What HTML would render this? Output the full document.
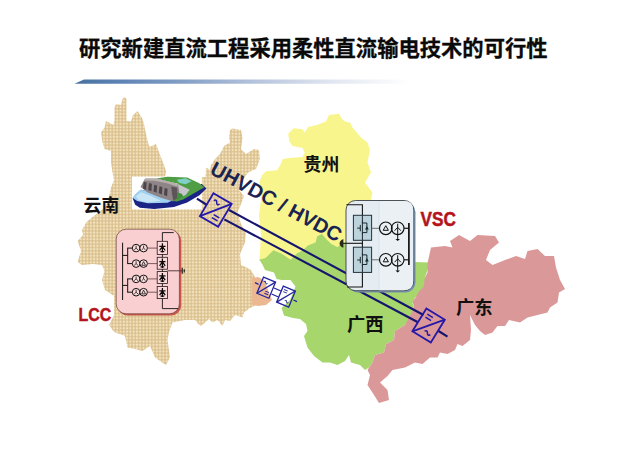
<!DOCTYPE html>
<html lang="zh">
<head>
<meta charset="utf-8">
<title>研究新建直流工程采用柔性直流输电技术的可行性</title>
<style>
html,body{margin:0;padding:0;background:#fff;}
body{width:640px;height:452px;overflow:hidden;position:relative;font-family:"Liberation Sans","Noto Sans CJK SC",sans-serif;}
svg{position:absolute;left:0;top:0;display:block;}
.cj{font-family:"Liberation Sans","Noto Sans CJK SC",sans-serif;font-weight:bold;}
.la{font-family:"Liberation Sans","Noto Sans CJK SC",sans-serif;font-weight:bold;}
</style>
</head>
<body>
<svg width="640" height="452" viewBox="0 0 640 452">
<defs>
  <linearGradient id="bar" x1="0" y1="0" x2="1" y2="0">
    <stop offset="0" stop-color="#46719f"/>
    <stop offset="0.12" stop-color="#5a81b2"/>
    <stop offset="0.3" stop-color="#7e9bc3"/>
    <stop offset="0.55" stop-color="#b7c5dd"/>
    <stop offset="0.75" stop-color="#dee4ef"/>
    <stop offset="1" stop-color="#ffffff"/>
  </linearGradient>
  <pattern id="tan" width="3.3" height="3.3" patternUnits="userSpaceOnUse">
    <rect width="3.3" height="3.3" fill="#dbbf8e"/>
    <circle cx="1.65" cy="1.65" r="1.15" fill="#f2e4c0"/>
  </pattern>
</defs>
<rect width="640" height="452" fill="#ffffff"/>

<!-- title -->
<text x="79" y="56" class="cj" font-size="21.3" fill="#0a0a0a" stroke="#0a0a0a" stroke-width="0.3">研究新建直流工程采用柔性直流输电技术的可行性</text>
<polygon points="84,79.6 410,79.6 410,83.8 74.5,83.8" fill="url(#bar)"/>

<!-- MAP -->
<g id="map">
<!-- Yunnan -->
<path id="yunnan" fill="url(#tan)" d="M124.5,97 L126.5,99 L126.5,121 L131,121.5 L133,115 L137.5,111 L142,118 L144,124 L146,134 L149,146 L152,146 L156,144 L159,152 L162,160 L164,165 L166,171 L165,177 L203,177 L205.5,177 L206,167.5 L210,170 L211,165 L215,159 L220,154 L224,146 L230,142.5 L229,137.5 L230,130 L232.5,128.5 L241,130 L242.5,137.5 L241,149 L246,154 L254,149 L259,150 L260,159 L256,169 L248,172.5 L243,180 L239,190 L244,196 L241,204 L237.5,212.5 L241,224 L246,232.5 L245,242.5 L240,254 L241,265 L250,269 L254,275 L256,280 L256,305 L250,308 L244,312.5 L242.5,317.5 L235,315 L230,321 L225,320 L222.5,326 L217.5,320 L212.5,322.5 L209,319 L202.5,325 L200,326 L195,320 L185,320 L172.5,322.5 L169,332 L167.5,340 L170,357.5 L166,365 L160,361 L155,357.5 L150,346 L142.5,351 L135,349 L127.5,347.5 L125,336 L114,332 L109,325 L114,315 L114,296 L105,290 L102,280 L104.5,271 L102,265 L93,264 L82,265 L77.7,262 L81,251 L77.7,241 L83,235 L82,230 L86.5,222 L93,216.5 L98,213 L105,207 L107.5,202 L109.8,193 L111,187.5 L114,180 L112.5,172.5 L111,162.5 L111,151 L104.5,149 L102.5,142.5 L101,132.5 L104.5,127.5 L106,121 L113.5,125 L114.5,120 L114.5,107.5 L116,104 L121,105 L122.5,99 Z"/>
<!-- salmon patch -->
<path fill="#ebb892" d="M252,278 L258,277 L264,280 L268,290 L272,300 L266,305 L258,306 L252,305 Z"/>
<!-- Guizhou -->
<path id="guizhou" fill="#f9f58d" d="M288.2,133.7 L293.7,128.2 L302.5,129.3 L304.8,132.6 L308,127 L317,125 L325.8,121.6 L329,115 L339,113.8 L342.4,119.4 L345,121.6 L350,122.5 L352.5,127.5 L361,137.5 L367.5,142.5 L370,150 L367.5,162.5 L371,172.5 L365,182.5 L372.5,192.5 L371,200 L376,205 L376,255 L300,263 L259.4,261 L261,235 L259,215 L261,200 L260.5,193.5 L259.4,182.4 L261.6,175.8 L266,171.3 L277,170.2 L280.4,164.7 L282.6,159.2 L288.2,158 L302.5,157 L304.8,152.5 L302.5,148 L292.6,146 L289.3,141.5 Z"/>
<!-- Guangxi -->
<path id="guangxi" fill="#a6d66c" d="M259.4,259.7 L265.6,258.1 L273.4,250.3 L281.3,253.4 L290.6,259.7 L296.9,253.4 L303.1,250.3 L307.8,245.6 L315.6,242.5 L317.2,236.3 L321.9,233.9 L326.6,239.4 L331.3,244.1 L337.5,247.2 L342.2,242.5 L360,247 L414,262 L430,262.5 L425,277.5 L426,290 L415,297.5 L412.5,303 L415,312 L405,325 L395,331 L394,340 L386,344 L384,352.5 L375,355 L372.5,362.5 L369,367.5 L365,370 L360,365 L351,362.5 L349,355 L345,361 L337.5,365 L330,362.5 L322.5,362.5 L314,356 L307.5,347.5 L304,336 L307.5,331 L306,324 L300,319 L293,318 L284,315.5 L281.6,308 L290,300 L295.5,286.5 L290.5,280 L281.6,280 L276.6,279 L274,272.5 L265,270 L262.7,265 Z"/>
<!-- Guangdong -->
<path id="guangdong" fill="#db9899" d="M431,247.5 L445,246 L452.5,247.5 L450,241 L459,235 L470,241 L477.5,235 L495,236 L499,242.5 L490,250 L486,260 L492.5,265 L505,260 L516,256 L525,259 L527.5,251 L537.5,249 L545,256 L554,256 L556,267.5 L560,280 L565,289 L559,292.5 L557.5,302.5 L550,307.5 L547.5,312.5 L537.5,315 L527.5,317.5 L520,322.5 L509,320 L505,326 L497.5,326 L492.5,332.5 L485,335 L480,331 L475,325 L470,315 L471,330 L470,340 L462.5,346 L457.5,344 L455,350 L447.5,354 L440,352.5 L437.5,357.5 L430,357.5 L422.5,364 L415,362.5 L405,367.5 L392.5,370 L387.5,376 L380,382.5 L387.5,390 L389,400 L379,403 L374,395 L367.5,385 L370,375 L367.5,370 L372.5,362.5 L375,355 L384,352.5 L386,344 L394,340 L395,331 L405,325 L414,308 L412.7,301.4 L416.2,296.5 L418.9,291.2 L423.5,287.2 L424.9,278 L427.5,272.6 L427.5,263.3 Z"/>
</g>

<!-- dam image -->
<g id="dam">
  <rect x="131.9" y="176.6" width="70" height="32.8" fill="#ffffff"/>
  <path d="M132.6,198.2 L135.9,194.3 L141.1,189.7 L167.4,196.2 L191.0,189.7 L201.5,183.8 L206.5,188.4 L199.5,195.2 L187.1,202.4 L173.9,207.0 L154.2,209.0 L139.8,207.7 L135.2,204.8 Z" fill="#1b2484"/>
  <path d="M132.6,198.0 L135.2,194.3 L140.5,189.4 L146.4,191.0 L172.6,200.4 L167.4,202.8 L147.7,203.3 L137.2,201.0 Z" fill="#9fd0ef"/>
  <path d="M135.9,196.2 L141.1,192.3 L151.6,196.2 L160.8,200.8 L147.7,202.2 L138.5,200.2 Z" fill="#c9e6f7"/>
  <path d="M156.2,178.5 L167.4,176.8 L187.1,177.6 L198.9,182.9 L204.4,187.3 L191.0,194.9 L183.1,199.5 L176.6,201.5 L172.6,200.8 L179.2,192.3 L177.9,183.8 L167.4,181.2 Z" fill="#4f9d45"/>
  <path d="M176.6,179.8 L185.7,178.3 L191.6,181.2 L185.7,184.2 L179.4,183.1 Z" fill="#7fd0c6"/>
  <path d="M177.2,183.8 L189.7,189.7 L185.7,194.9 L178.5,198.2 L178.5,192.3 Z" fill="#c7c6cc"/>
  <path d="M140.5,187.1 L145.1,178.5 L156.2,178.5 L167.4,181.2 L177.9,184.2 L179.4,192.3 L173.3,201.5 L160.8,197.8 L147.7,192.6 Z" fill="#8d8588"/>
  <path d="M145.1,178.5 L156.2,178.5 L167.4,181.2 L177.9,184.2 L177.2,186.4 L166.1,183.1 L154.2,180.8 L144.4,180.5 Z" fill="#b9b0ae"/>
  <path d="M143.7,181.8 L146.6,182.5 L146.1,189.9 L143.0,188.6 Z" fill="#4d4549"/>
  <path d="M149.0,183.1 L151.9,183.8 L151.4,191.3 L148.2,189.9 Z" fill="#4d4549"/>
  <path d="M154.2,184.7 L157.1,185.4 L156.6,192.8 L153.5,191.5 Z" fill="#4d4549"/>
  <path d="M159.5,186.3 L162.4,186.9 L161.9,194.4 L158.7,193.1 Z" fill="#4d4549"/>
  <path d="M164.7,188.1 L167.6,188.8 L167.1,196.2 L164.0,194.9 Z" fill="#4d4549"/>
  <path d="M171.3,186.4 L177.2,187.7 L177.2,198.2 L173.3,200.8 L172.0,193.6 Z" fill="#5c5458"/>
  <path d="M177.2,192.3 L182.1,193.9 L183.1,196.6 L176.8,200.4 Z" fill="#3f8f3c"/>
</g>

<!-- HVDC lines -->
<g stroke="#15156f" stroke-width="2.1" fill="none" stroke-linecap="butt">
  <line x1="196.9" y1="198.7" x2="207" y2="205"/>
  <line x1="229" y1="210" x2="423.5" y2="315"/>
  <line x1="224.3" y1="219.4" x2="417.5" y2="322"/>
  <line x1="438.5" y1="331" x2="447.5" y2="336.7"/>
</g>
<!-- converter Yunnan -->
<g transform="translate(215.8,210) rotate(30.5)" stroke="#2418a8" stroke-width="1.8" fill="none">
  <rect x="-10.6" y="-13.3" width="21.2" height="26.6" fill="none"/>
  <line x1="-10.6" y1="13.3" x2="10.6" y2="-13.3"/>
  <path d="M-6.5,-7 q1.7,-3 3.4,0 t3.4,0" stroke-width="1.5"/>
  <line x1="0.5" y1="5" x2="7" y2="5" stroke-width="1.5"/>
  <line x1="0.5" y1="8.5" x2="7" y2="8.5" stroke-width="1.5"/>
</g>
<!-- converter Guangdong -->
<g transform="translate(428.6,325.5) rotate(31.5)" stroke="#2418a8" stroke-width="1.8" fill="none">
  <rect x="-10.8" y="-13.4" width="21.6" height="26.8" fill="none"/>
  <line x1="-10.8" y1="13.4" x2="10.8" y2="-13.4"/>
  <line x1="-7" y1="-9" x2="-0.5" y2="-9" stroke-width="1.5"/>
  <line x1="-7" y1="-5.5" x2="-0.5" y2="-5.5" stroke-width="1.5"/>
  <path d="M-0.5,7 q1.7,-3 3.4,0 t3.4,0" stroke-width="1.5"/>
</g>
<!-- small converter pair -->
<g stroke="#2323a0" stroke-width="1.3" fill="none">
  <line x1="255" y1="282.7" x2="258.5" y2="284.3"/>
  <g transform="translate(266.2,287.7) rotate(22.5)">
    <rect x="-6.5" y="-8.7" width="13" height="17.4"/>
    <line x1="-6.5" y1="8.7" x2="6.5" y2="-8.7"/>
    <path d="M-4.5,-4.5 q1,-2 2,0 t2,0" stroke-width="0.9"/>
    <line x1="0.5" y1="3.5" x2="4.5" y2="3.5" stroke-width="0.9"/>
    <line x1="0.5" y1="5.8" x2="4.5" y2="5.8" stroke-width="0.9"/>
  </g>
  <line x1="274" y1="288" x2="281" y2="291"/>
  <line x1="271.5" y1="294" x2="278.5" y2="297"/>
  <g transform="translate(286,296.6) rotate(22.5)">
    <rect x="-6.5" y="-8.7" width="13" height="17.4"/>
    <line x1="-6.5" y1="8.7" x2="6.5" y2="-8.7"/>
    <line x1="-4.5" y1="-5.8" x2="-0.5" y2="-5.8" stroke-width="0.9"/>
    <line x1="-4.5" y1="-3.5" x2="-0.5" y2="-3.5" stroke-width="0.9"/>
    <path d="M0.5,4.5 q1,-2 2,0 t2,0" stroke-width="0.9"/>
  </g>
  <line x1="293.5" y1="300" x2="297" y2="301.6"/>
</g>

<!-- LCC box -->
<g id="lcc">
  <rect x="117.6" y="230.8" width="63.6" height="84.6" rx="10" ry="10" fill="#c9574c"/>
  <rect x="116.2" y="229.2" width="63.2" height="84.6" rx="10" ry="10" fill="#f9cfd1" stroke="#6b4038" stroke-width="0.7"/>
  <g stroke="#141010" stroke-width="1" fill="none">
    <line x1="122.6" y1="242.7" x2="122.6" y2="300"/>
    <path d="M122.6,255.4 H127.7 M127.7,248.1 V263.6 M127.2,248.1 H132.3 M127.2,263.6 H132.3"/>
    <path d="M122.6,285.4 H127.7 M127.7,278.9 V292.2 M127.2,278.9 H132.3 M127.2,292.2 H132.3"/>
    <circle cx="136.1" cy="248.1" r="3.8" fill="#fbdcdd"/><circle cx="143.6" cy="248.1" r="3.8" fill="#fbdcdd"/>
    <path d="M136.1,245.7 V248.1 M136.1,248.1 L134.2,249.9 M136.1,248.1 L138,249.9" stroke-width="0.8"/>
    <path d="M143.6,245.7 V248.1 M143.6,248.1 L141.7,249.9 M143.6,248.1 L145.5,249.9" stroke-width="0.8"/>
    <circle cx="136.1" cy="263.6" r="3.8" fill="#fbdcdd"/><circle cx="143.6" cy="263.6" r="3.8" fill="#fbdcdd"/>
    <path d="M136.1,261.2 V263.6 M136.1,263.6 L134.2,265.4 M136.1,263.6 L138,265.4" stroke-width="0.8"/>
    <path d="M141.7,265.3 L143.6,261.6 L145.5,265.3 Z" stroke-width="0.8"/>
    <circle cx="136.1" cy="278.9" r="3.8" fill="#fbdcdd"/><circle cx="143.6" cy="278.9" r="3.8" fill="#fbdcdd"/>
    <path d="M136.1,276.5 V278.9 M136.1,278.9 L134.2,280.7 M136.1,278.9 L138,280.7" stroke-width="0.8"/>
    <path d="M143.6,276.5 V278.9 M143.6,278.9 L141.7,280.7 M143.6,278.9 L145.5,280.7" stroke-width="0.8"/>
    <circle cx="136.1" cy="292.2" r="3.8" fill="#fbdcdd"/><circle cx="143.6" cy="292.2" r="3.8" fill="#fbdcdd"/>
    <path d="M136.1,289.8 V292.2 M136.1,292.2 L134.2,294.0 M136.1,292.2 L138,294.0" stroke-width="0.8"/>
    <path d="M141.7,293.9 L143.6,290.2 L145.5,293.9 Z" stroke-width="0.8"/>
  </g>
  <g stroke="#6e4f50" stroke-width="0.9" fill="none">
    <path d="M147.4,248.1 H157.2 M147.4,263.6 H157.2 M147.4,278.9 H157.2 M147.4,292.2 H157.2"/>
  </g>
  <g stroke="#241818" stroke-width="0.8" fill="#fbd9da">
    <rect x="157.2" y="241.3" width="10.2" height="13.1"/>
    <rect x="157.2" y="257.3" width="10.2" height="11.9"/>
    <rect x="157.2" y="271.6" width="10.2" height="11.8"/>
    <rect x="157.2" y="286.4" width="10.2" height="12.2"/>
  </g>
  <g stroke="#141010" stroke-width="0.9" fill="none">
    <path d="M162.4,241.3 V232.6 H173.7 M162.4,254.4 V257.3 M162.4,269.2 V271.6 M162.4,283.4 V286.4 M162.4,298.6 V308.6 H178.2"/>
    <path d="M167.4,270.8 H182" stroke="#4a3030"/>
    <path d="M182.2,267.8 V273.8 M184.2,269.2 V272.4" stroke-width="1.1"/>
  </g>
  <g stroke="#0c0808" stroke-width="1.25" fill="none" stroke-linejoin="miter">
    <path d="M162.4,243.3 V252.5 M159.3,246.3 H165.5 M159.6,250.5 L162.4,246.5 L165.2,250.5 M160.6,251.5 H164.2"/>
    <path d="M162.4,258.6 V267.9 M159.3,261.6 H165.5 M159.6,265.9 L162.4,261.9 L165.2,265.9 M160.6,266.9 H164.2"/>
    <path d="M162.4,272.9 V282.1 M159.3,275.9 H165.5 M159.6,280.1 L162.4,276.1 L165.2,280.1 M160.6,281.1 H164.2"/>
    <path d="M162.4,287.9 V297.1 M159.3,290.9 H165.5 M159.6,295.1 L162.4,291.1 L165.2,295.1 M160.6,296.1 H164.2"/>
  </g>
</g>

<!-- VSC box -->
<g id="vsc">
  <rect x="347.9" y="202.2" width="67.6" height="90.2" rx="10" ry="10" fill="#7592ad"/>
  <rect x="346" y="200.5" width="67.7" height="90.2" rx="9.6" ry="9.6" fill="#e5edf2" stroke="#3a3f44" stroke-width="0.9"/>
  <path d="M379,201 V290.2 H404 Q413.2,290.2 413.2,281 V210 Q413.2,201 404,201 Z" fill="#eaf0f4"/>
  <line x1="379" y1="201.2" x2="379" y2="290" stroke="#cfdbe2" stroke-width="0.6"/>
  <g stroke="#141414" stroke-width="1.1" fill="none">
    <path d="M346.4,204.7 H362.4 V215.3 M362.4,240.3 V247.2 M362.4,272.4 V287 H347"/>
    <path d="M343,243.3 H362.4"/>
  </g>
  <path d="M343.4,239 V247.8 C340.5,246.8 339.6,244.8 339.6,243.4 C339.6,242 340.5,240 343.4,239 Z" fill="#2a2a1c"/>
  <g stroke="#22333a" stroke-width="1" fill="#bcd3dc">
    <rect x="353.4" y="215.3" width="18.2" height="25"/>
    <rect x="353.4" y="247.2" width="18.2" height="25.2"/>
  </g>
  <g stroke="#1a2a30" stroke-width="1" fill="none">
    <path d="M362.4,215.3 V223.0 H366.9 V232.6 H362.4 V240.3 M362.4,221.3 V234.3 M360.3,224.9 V231.3 M357.2,228.1 H360.3"/>
  </g>
  <path d="M365,229.5 L368.8,229.5 L366.9,226.1 Z" fill="#1a2a30"/>
  <g stroke="#1a2a30" stroke-width="1" fill="none">
    <path d="M362.4,247.2 V254.9 H366.9 V264.5 H362.4 V272.2 M362.4,253.2 V266.2 M360.3,256.8 V263.2 M357.2,260.0 H360.3"/>
  </g>
  <path d="M365,261.4 L368.8,261.4 L366.9,258.0 Z" fill="#1a2a30"/>
  <g stroke="#6a6f72" stroke-width="1" fill="none"><path d="M371.6,228.3 H379.4"/></g>
  <g stroke="#101010" stroke-width="1.15" fill="none">
    <circle cx="385.8" cy="228.3" r="6.3"/><circle cx="397.7" cy="228.3" r="6.3"/>
    <path d="M404,228.3 H408.9"/>
    <path d="M383.2,230.3 L385.8,225.7 L388.4,230.3 Z" stroke-width="1"/>
    <path d="M397.7,223.7 V239.3 M394.6,230.7 L397.7,227.3 L400.8,230.7" stroke-width="1"/>
  </g>
  <path d="M395.4,238.9 H400 L397.7,241.1 Z" fill="#101010"/>
  <g stroke="#6a6f72" stroke-width="1" fill="none"><path d="M371.6,259.8 H379.4"/></g>
  <g stroke="#101010" stroke-width="1.15" fill="none">
    <circle cx="385.8" cy="259.8" r="6.3"/><circle cx="397.7" cy="259.8" r="6.3"/>
    <path d="M404,259.8 H408.9"/>
    <path d="M383.2,261.8 L385.8,257.2 L388.4,261.8 Z" stroke-width="1"/>
    <path d="M397.7,255.2 V270.8 M394.6,262.2 L397.7,258.8 L400.8,262.2" stroke-width="1"/>
  </g>
  <path d="M395.4,270.4 H400 L397.7,272.6 Z" fill="#101010"/>
  <line x1="408.9" y1="223" x2="408.9" y2="265" stroke="#101010" stroke-width="1.7"/>
</g>

<!-- labels -->
<text x="83.6" y="211.6" class="cj" font-size="17.8" fill="#111">云南</text>
<text x="303.6" y="171" class="cj" font-size="17.9" fill="#111">贵州</text>
<text x="347" y="330.5" class="cj" font-size="18.3" fill="#111">广西</text>
<text x="456" y="314" class="cj" font-size="18.3" fill="#111">广东</text>
<text transform="translate(78.6,320.7) scale(0.84,1)" class="la" font-size="19" fill="#b3141c" stroke="#b3141c" stroke-width="0.5">LCC</text>
<text transform="translate(420.6,225.9) scale(0.885,1)" class="la" font-size="19.4" fill="#b3141c" stroke="#b3141c" stroke-width="0.5">VSC</text>
<text transform="translate(208.8,173.2) rotate(28.3)" class="la" font-size="20.2" fill="#1b2350">UHVDC / HVDC</text>
</svg>
</body>
</html>
